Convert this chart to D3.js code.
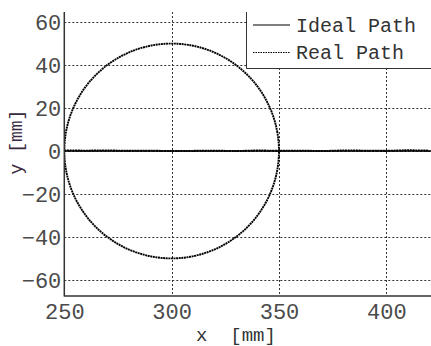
<!DOCTYPE html>
<html><head><meta charset="utf-8">
<script src="https://cdn.jsdelivr.net/npm/d3@7"></script>
<style>
html,body{margin:0;padding:0;background:#fff;}
svg{display:block;}
text{font-family:"Liberation Mono","Courier New",monospace;}
</style></head>
<body>
<svg id="c" width="431" height="346"></svg>
<script>
// ---- data ----
const xTicks = [250, 300, 350, 400];
const yTicks = [-60, -40, -20, 0, 20, 40, 60];
const xDomain = [250, 421];
const yDomain = [-67.5, 64.7];
// Ideal path: straight line
const idealX = [250, 421];
const idealY = [0, 0];
// Real path: circle part (every 10 degrees)
const realCircleX = [350,349.24,346.98,343.30,338.30,332.14,325.00,317.10,308.68,300,291.32,282.90,275.00,267.86,261.70,256.70,253.02,250.76,250,250.76,253.02,256.70,261.70,267.86,275,282.90,291.32,300,308.68,317.10,325,332.14,338.30,343.30,346.98,349.24];
const realCircleY = [0,8.68,17.10,25.00,32.14,38.30,43.30,46.98,49.24,50,49.24,46.98,43.30,38.30,32.14,25.00,17.10,8.68,0,-8.68,-17.10,-25,-32.14,-38.30,-43.30,-46.98,-49.24,-50,-49.24,-46.98,-43.30,-38.30,-32.14,-25,-17.10,-8.68];
// Real path: straight part
const realLineX = [250,260,270,280,290,300,310,320,330,340,350,360,370,380,390,400,410,420];
const realLineY = [0.3,0.2,0.3,0.1,0.2,0.0,0.1,0.2,0.0,0.3,0.1,0.2,0.0,0.3,0.2,0.1,0.4,0.2];
const legendLabels = ["Ideal Path", "Real Path"];
const xLabel = "x  [mm]";
const yLabel = "y [mm]";

// ---- layout ----
const L = 64.3, R = 431.4, T = 12, B = 296;
const svg = d3.select("#c");
const x = d3.scaleLinear().domain(xDomain).range([L, R]);
const y = d3.scaleLinear().domain(yDomain).range([B, T]);

svg.append("defs").append("clipPath").attr("id","clip")
  .append("rect").attr("x",L).attr("y",T).attr("width",R-L).attr("height",B-T);

// grid
const grid = svg.append("g").attr("stroke","#333").attr("stroke-width",1).attr("stroke-dasharray","2,2");
grid.selectAll("line.v").data(xTicks.filter(d=>d>xDomain[0])).join("line")
  .attr("x1",d=>Math.round(x(d))+0.5).attr("x2",d=>Math.round(x(d))+0.5)
  .attr("y1",T).attr("y2",B);
grid.selectAll("line.h").data(yTicks).join("line")
  .attr("y1",d=>Math.round(y(d))+0.5).attr("y2",d=>Math.round(y(d))+0.5)
  .attr("x1",L).attr("x2",R);

const plot = svg.append("g").attr("clip-path","url(#clip)");
const line = d3.line().x(d=>x(d[0])).y(d=>y(d[1]));
// ideal path
plot.append("path").datum(idealX.map((v,i)=>[v,idealY[i]]))
  .attr("d",line).attr("fill","none").attr("stroke","#000").attr("stroke-width",1.6);
// real path
const circ = d3.line().x(d=>x(d[0])).y(d=>y(d[1])).curve(d3.curveCatmullRomClosed);
plot.append("path").datum(realCircleX.map((v,i)=>[v,realCircleY[i]]))
  .attr("d",circ).attr("fill","none").attr("stroke","#000").attr("stroke-width",1.9)
  .attr("stroke-dasharray","2,0.6");
plot.append("path").datum(realLineX.map((v,i)=>[v,realLineY[i]]))
  .attr("d",line).attr("fill","none").attr("stroke","#000").attr("stroke-width",1.8)
  .attr("stroke-dasharray","2,0.7");

// axes lines
svg.append("line").attr("x1",L).attr("x2",L).attr("y1",T).attr("y2",B+0.5)
  .attr("stroke","#333").attr("stroke-width",1.5);
svg.append("line").attr("x1",L).attr("x2",431).attr("y1",B).attr("y2",B)
  .attr("stroke","#333").attr("stroke-width",1.5);

// tick labels
const xAxis = d3.axisBottom(x).tickValues(xTicks).tickSize(0).tickPadding(0);
const gx = svg.append("g").attr("transform",`translate(0,${B})`).call(xAxis);
gx.select(".domain").remove();
gx.selectAll("text").attr("y",23).attr("dy",0).attr("font-size",22)
  .attr("font-family","Liberation Mono").attr("fill","#4a4a4a");
const yAxis = d3.axisLeft(y).tickValues(yTicks).tickSize(0).tickPadding(0)
  .tickFormat(d=>d<0?"\u2212"+Math.abs(d):d);
const gy = svg.append("g").attr("transform",`translate(${L},0)`).call(yAxis);
gy.select(".domain").remove();
gy.selectAll("text").attr("x",-3).attr("dy",7.5).attr("font-size",22)
  .attr("font-family","Liberation Mono").attr("fill","#4a4a4a");

// axis labels
svg.append("text").attr("x",236).attr("y",341).attr("text-anchor","middle")
  .attr("font-size",19).attr("fill","#333").attr("xml:space","preserve")
  .style("white-space","pre").text(xLabel);
svg.append("text").attr("transform","translate(22,142) rotate(-90)").attr("text-anchor","middle")
  .attr("font-size",18).attr("fill","#3a2a40").style("white-space","pre").text(yLabel);

// legend
const lg = svg.append("g");
lg.append("rect").attr("x",246.5).attr("y",T).attr("width",200).attr("height",56.5).attr("fill","#fff");
lg.append("line").attr("x1",246.5).attr("x2",246.5).attr("y1",T).attr("y2",68.5).attr("stroke","#333").attr("stroke-width",1);
lg.append("line").attr("x1",246.5).attr("x2",431).attr("y1",68.5).attr("y2",68.5).attr("stroke","#333").attr("stroke-width",1);
const ly = [25, 52.5];
lg.selectAll("line.s").data(legendLabels).join("line")
  .attr("x1",253).attr("x2",290).attr("y1",(d,i)=>ly[i]).attr("y2",(d,i)=>ly[i])
  .attr("stroke","#000").attr("stroke-width",1.2)
  .attr("stroke-dasharray",(d,i)=>i===1?"1.5,1":null);
lg.selectAll("text").data(legendLabels).join("text")
  .attr("x",296).attr("y",(d,i)=>ly[i]+6.5).attr("font-size",20).attr("fill","#333")
  .style("white-space","pre").text(d=>d);
</script>
</body></html>
